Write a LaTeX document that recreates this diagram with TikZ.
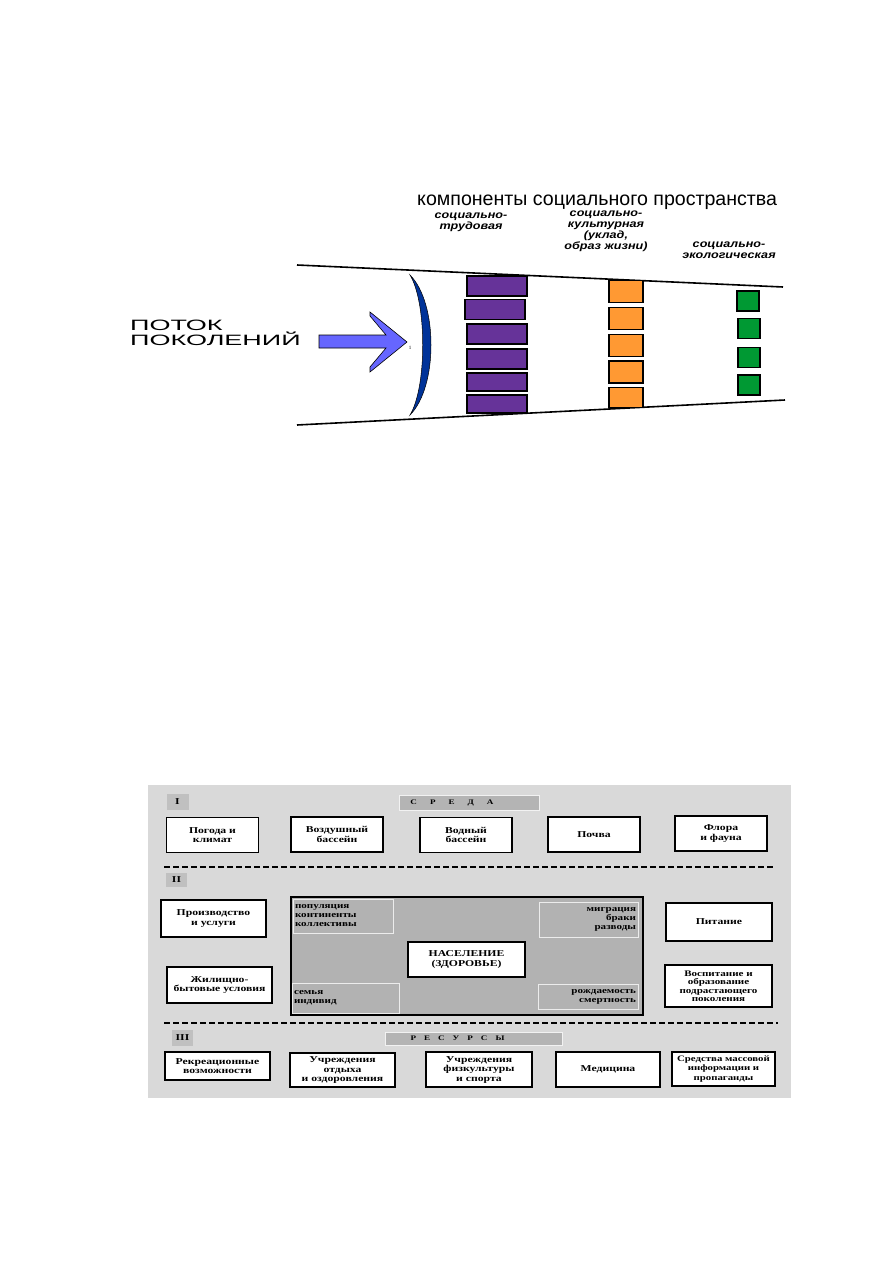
\documentclass[tikz,border=0pt]{standalone}
\usepackage{fontspec}
\setmainfont{Liberation Serif}
\newfontfamily\titlefont{Liberation Sans}
\newfontfamily\labelfont[FakeStretch=1.2]{Liberation Sans}
\newfontfamily\flowfont[FakeStretch=1.8]{Liberation Sans}
\newfontfamily\panelfont[FakeStretch=1.3]{Liberation Serif}
\usetikzlibrary{positioning,calc}
\definecolor{purplebar}{RGB}{102,51,153}
\definecolor{orangebar}{RGB}{255,153,51}
\definecolor{greenbar}{RGB}{0,153,51}
\definecolor{flowblue}{RGB}{102,102,255}
\definecolor{lensblue}{RGB}{0,51,153}
\definecolor{panelgray}{RGB}{217,217,217}
\definecolor{coregray}{RGB}{178,178,178}
\definecolor{taggray}{RGB}{192,192,192}
\definecolor{headgray}{RGB}{180,180,180}

\begin{document}
\begin{tikzpicture}[x=1pt,y=-1pt,
	tier/.style={draw=black,line width=1.5pt,inner sep=0pt},
	workbar/.style={tier,fill=purplebar,minimum width=60,minimum height=20},
	culturebar/.style={tier,fill=orangebar,minimum width=34,minimum height=22},
	ecobar/.style={tier,fill=greenbar,minimum width=22,minimum height=20},
	sublabel/.style={align=center,inner sep=0pt,font=\labelfont\bfseries\itshape\fontsize{10.5}{11}\selectfont},
	panelbox/.style={draw=black,line width=1.5pt,fill=white,inner sep=1pt,align=center,
		minimum width=92,minimum height=35,font=\panelfont\bfseries\fontsize{9}{9.5}\selectfont},
	tagbox/.style={fill=taggray,inner sep=0pt,minimum width=22,minimum height=16,
		font=\panelfont\bfseries\fontsize{9}{9}\selectfont},
	headbox/.style={fill=headgray,draw=white!90!gray,line width=0.8pt,inner sep=0pt,align=left,
		minimum height=15,font=\panelfont\bfseries\fontsize{7}{7}\selectfont},
	cornerbox/.style={fill=coregray,draw=white!85!gray,line width=0.8pt,inner sep=2pt,
		font=\panelfont\bfseries\fontsize{8.5}{9}\selectfont},
	gapline/.style={line width=1.2pt,dash pattern=on 6pt off 3pt}]
	\useasboundingbox (0,0) rectangle (893,1263);

	% Walls of the social space
	\coordinate (upperL) at (297,265);
	\coordinate (upperR) at (783,287);
	\coordinate (lowerL) at (297,425);
	\coordinate (lowerR) at (785,400);
	\draw[line width=1.6pt] (upperL) -- (upperR);
	\draw[line width=1.6pt] (lowerL) -- (lowerR);

	% Headings
	\node[font=\titlefont\fontsize{19.6}{19.6}\selectfont,anchor=base west,inner sep=0pt] (heading) at (417,205) {компоненты социального пространства};
	\node[sublabel] (labor) at (471,222) {социально-\\трудовая};
	\node[sublabel] (culture) at (606,231) {социально-\\культурная\\(уклад,\\образ жизни)};
	\node[sublabel] (ecology) at (729,250) {социально-\\экологическая};

	% Flow of generations
	\node[font=\flowfont\fontsize{15}{15}\selectfont,align=left,anchor=north west,inner sep=0pt] (flow) at (130,320) {ПОТОК\\ПОКОЛЕНИЙ};
	\filldraw[fill=flowblue,draw=black,line width=0.6pt] (319,335) -- (386,335) -- (370,316) -- (370,312) -- (407,342) -- (370,372) -- (370,367) -- (386,348) -- (319,348) -- cycle;
	\node[font=\fontsize{5}{5}\selectfont,inner sep=0pt] (tick) at (410,348) {1};
	\filldraw[fill=lensblue,draw=black,line width=0.5pt] (410,275) .. controls (438,303) and (438,387) .. (410,415) .. controls (427,387) and (427,303) .. (410,275) -- cycle;

	% Social and labour column
	\node[workbar] (work1) at (497,286) {};
	\node[workbar] (work2) at (495,309.5) {};
	\node[workbar] (work3) at (497,334) {};
	\node[workbar] (work4) at (497,359) {};
	\node[workbar,minimum height=18] (work5) at (497,382) {};
	\node[workbar,minimum height=18] (work6) at (497,404) {};

	% Social and cultural column
	\node[culturebar] (cult1) at (626,291.5) {};
	\node[culturebar] (cult2) at (626,318.5) {};
	\node[culturebar] (cult3) at (626,345.5) {};
	\node[culturebar] (cult4) at (626,372) {};
	\node[culturebar,minimum height=20] (cult5) at (626,397.5) {};

	% Social and ecological column
	\node[ecobar] (eco1) at (748,301) {};
	\node[ecobar] (eco2) at (749,328.5) {};
	\node[ecobar] (eco3) at (749,357.5) {};
	\node[ecobar] (eco4) at (749,385) {};

	% Lower panel
	\fill[panelgray] (148,785) rectangle (791,1098);

	% I: environment
	\node[tagbox] (tagI) at (177.5,802) {I};
	\node[headbox,minimum width=140] (env) at (469,802.5) {\hspace*{6pt}С\hspace{13pt}Р\hspace{13pt}Е\hspace{13pt}Д\hspace{13pt}А\hspace{40pt}};
	\node[panelbox] (weather) at (212.5,835) {Погода и\\климат};
	\node[panelbox] (air) at (337,834.5) {Воздушный\\бассейн};
	\node[panelbox] (water) at (466,835) {Водный\\бассейн};
	\node[panelbox] (soil) at (594,834.5) {Почва};
	\node[panelbox] (flora) at (721,833.5) {Флора\\и фауна};
	\coordinate (gapA) at (164,867);
	\coordinate (gapB) at (773,867);
	\draw[gapline] (gapA) -- (gapB);

	% II: population
	\node[tagbox,minimum width=21,minimum height=14] (tagII) at (176.5,880) {II};
	\node[panelbox,minimum width=105,minimum height=37] (industry) at (213.5,918.5) {Производство\\и услуги};
	\node[panelbox,minimum width=105,minimum height=36] (housing) at (219.5,985) {Жилищно-\\бытовые условия};
	\node[fill=coregray,draw=black,line width=1.5pt,minimum width=352,minimum height=118,inner sep=0pt] (core) at (467,956) {};
	\node[cornerbox,text width=96,align=left,minimum height=34] (groups) at (343,916) {популяция\\континенты\\коллективы};
	\node[cornerbox,text width=95,align=right,minimum height=35] (migration) at (588.5,919.5) {миграция\\браки\\разводы};
	\node[cornerbox,text width=103,align=left,minimum height=30] (family) at (345.5,998) {семья\\индивид};
	\node[cornerbox,text width=96,align=right,minimum height=25] (births) at (588,996.5) {рождаемость\\смертность};
	\node[panelbox,minimum width=117,minimum height=35] (people) at (466.5,959.5) {НАСЕЛЕНИЕ\\(ЗДОРОВЬЕ)};
	\node[panelbox,minimum width=106,minimum height=38] (food) at (719,922) {Питание};
	\node[panelbox,minimum width=107,minimum height=42,font=\panelfont\bfseries\fontsize{8.5}{8.5}\selectfont] (upbringing) at (718.5,986) {Воспитание и\\образование\\подрастающего\\поколения};
	\coordinate (gapC) at (164,1023);
	\coordinate (gapD) at (778,1023);
	\draw[gapline] (gapC) -- (gapD);

	% III: resources
	\node[tagbox,minimum width=21] (tagIII) at (182.5,1038) {III};
	\node[headbox,minimum width=177,minimum height=13] (res) at (473.5,1038.5) {\hspace*{18pt}Р\hspace{8pt}Е\hspace{8pt}С\hspace{8pt}У\hspace{8pt}Р\hspace{8pt}С\hspace{8pt}Ы\hspace{50pt}};
	\node[panelbox,minimum width=105,minimum height=28] (leisure) at (217.5,1066) {Рекреационные\\возможности};
	\node[panelbox,minimum width=105,minimum height=34] (rest) at (342.5,1070) {Учреждения\\отдыха\\и оздоровления};
	\node[panelbox,minimum width=106,minimum height=35] (sport) at (479,1069.5) {Учреждения\\физкультуры\\и спорта};
	\node[panelbox,minimum width=104,minimum height=35] (medicine) at (608,1069.5) {Медицина};
	\node[panelbox,minimum width=103,minimum height=34,font=\panelfont\bfseries\fontsize{8.3}{9.5}\selectfont] (media) at (723.5,1069) {Средства массовой\\информации и\\пропаганды};
\end{tikzpicture}
\end{document}
